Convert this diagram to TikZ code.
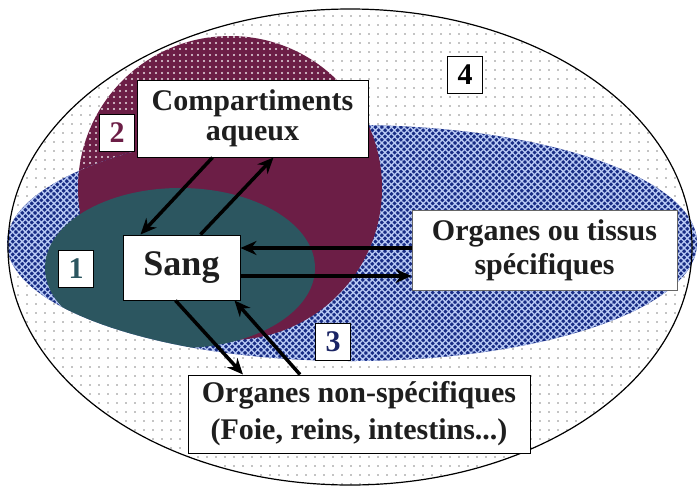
\documentclass[tikz,border=0pt]{standalone}
\usepackage{fontspec}
\setmainfont{Liberation Serif}
\usepackage{tikz}
\usetikzlibrary{arrows.meta,positioning,calc,patterns.meta}
\definecolor{inkDark}{RGB}{30,30,30}
\definecolor{aqueousMaroon}{RGB}{108,30,70}
\definecolor{bloodTeal}{RGB}{44,86,96}
\definecolor{tissueBlue}{RGB}{24,44,132}
\definecolor{hatchLight}{RGB}{185,202,245}
\definecolor{numberBlue}{RGB}{26,36,100}
\newcommand{\boxfont}{\fontsize{30}{34}\selectfont\bfseries}
\tikzset{
  zone label/.style={draw=black,fill=white,line width=1pt,align=center,text=inkDark,font=\boxfont,inner sep=2pt},
  zone number/.style={draw=black,fill=white,line width=1pt,minimum width=35pt,minimum height=37pt,inner sep=0pt,font=\boxfont},
  flux arrow/.style={-{Stealth[length=16pt,width=14pt]},line width=3.5pt,draw=black}
}

\begin{document}
\begin{tikzpicture}[x=1pt,y=-1pt]
  \useasboundingbox (0,0) rectangle (700,493);
  % outer zone 4
  \fill[white] (350,247) ellipse [x radius=342,y radius=238];
  \fill[pattern={Dots[distance=9pt,radius=0.7pt]},pattern color=black] (350,247) ellipse [x radius=342,y radius=238];
  % zone 2, dotted where it leaves the blue band
  \fill[aqueousMaroon] (230,188) circle [radius=152];
  \fill[pattern={Dots[distance=6pt,radius=1.2pt]},pattern color=white!85!aqueousMaroon] (230,188) circle [radius=152];
  % zone 3
  \fill[tissueBlue] (352,243) ellipse [x radius=345,y radius=118];
  \fill[pattern={Hatch[distance=4.5pt,angle=45,line width=1.3pt]},pattern color=hatchLight] (352,243) ellipse [x radius=345,y radius=118];
  \begin{scope}
    \clip (352,243) ellipse [x radius=345,y radius=118];
    \fill[aqueousMaroon] (230,188) circle [radius=152];
    \fill[bloodTeal] (180,268) ellipse [x radius=135,y radius=80];
  \end{scope}
  \draw[line width=1.2pt] (350,247) ellipse [x radius=342,y radius=238];

  \node[zone label,minimum width=231pt,minimum height=77pt] (aqueux) at (252.5,118.5) {Compartiments\\[-4pt]aqueux};
  \node[zone label,minimum width=117pt,minimum height=65pt,font=\fontsize{36}{40}\selectfont\bfseries] (sang) at (181.5,267.5) {Sang};
  \node[zone label,draw=black!60,minimum width=265pt,minimum height=80pt] (specifiques) at (544.5,250) {Organes ou tissus\\spécifiques};
  \node[zone label,minimum width=342pt,minimum height=78pt] (nonspec) at (359,414) {Organes non-spécifiques\\[3pt](Foie, reins, intestins...)};

  \node[zone number,text=bloodTeal] (num1) at (76,269) {1};
  \node[zone number,text=aqueousMaroon] (num2) at (117,133) {2};
  \node[zone number,text=numberBlue] (num3) at (333,342) {3};
  \node[zone number,text=black] (num4) at (465,75) {4};

  \draw[flux arrow] ([xshift=-40pt]aqueux.south) -- ([xshift=-41pt]sang.north);
  \draw[flux arrow] ([xshift=19pt]sang.north) -- ([xshift=21pt]aqueux.south);
  \draw[flux arrow] ([yshift=2pt]specifiques.west) -- ([yshift=2pt]specifiques.west -| sang.east);
  \draw[flux arrow] ([yshift=-26pt]specifiques.west -| sang.east) -- ([yshift=-26pt]specifiques.west);
  \draw[flux arrow] ([xshift=-6pt]sang.south) -- ([xshift=-116pt]nonspec.north);
  \draw[flux arrow] ([xshift=-59pt]nonspec.north) -- ([xshift=53pt]sang.south);
\end{tikzpicture}
\end{document}
